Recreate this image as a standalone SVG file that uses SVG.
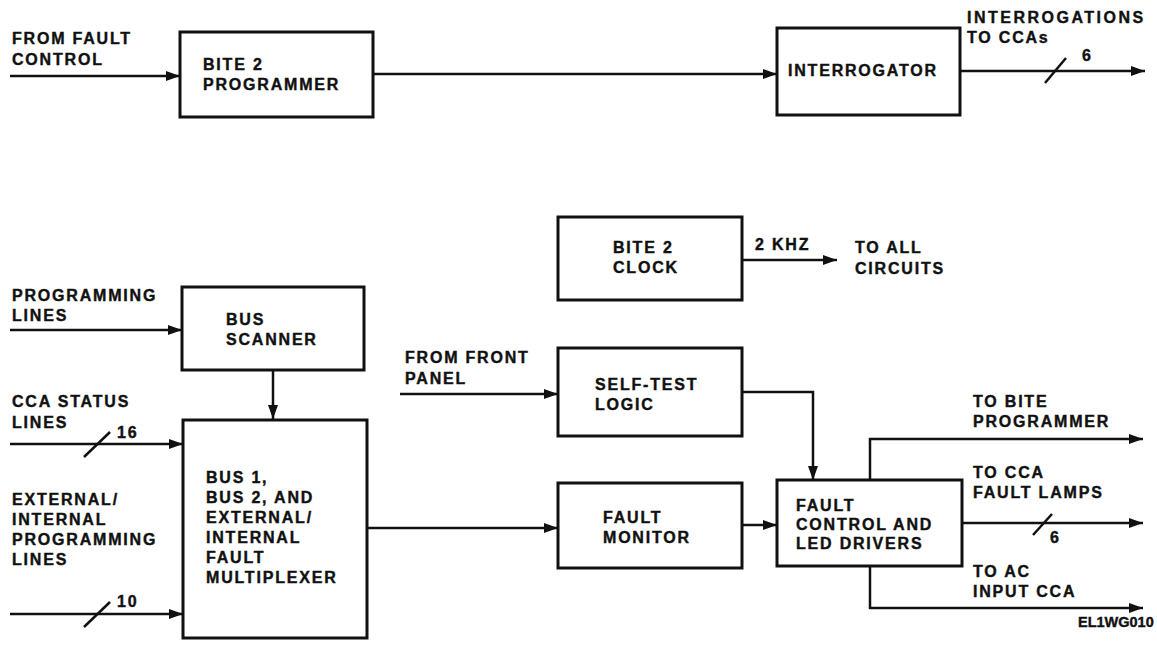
<svg xmlns="http://www.w3.org/2000/svg" width="1157" height="653" viewBox="0 0 1157 653">
<style>
text{font-family:"Liberation Sans",Arial,sans-serif;font-weight:bold;font-size:16px;letter-spacing:1.8px;fill:#111;stroke:#111;stroke-width:0.4}
.box{fill:#fff;stroke:#111;stroke-width:3}
.ln{fill:none;stroke:#111;stroke-width:2.5}
.arr{marker-end:url(#ah)}
</style>
<defs>
<marker id="ah" markerUnits="userSpaceOnUse" markerWidth="14" markerHeight="10" refX="14" refY="5" orient="auto">
<path d="M0,0 L14,5 L0,10 z" fill="#111"/>
</marker>
</defs>
<rect width="1157" height="653" fill="#fff"/>

<g id="connectors">
<path class="ln arr" d="M10,76 H180"/>
<path class="ln arr" d="M373,74 H777"/>
<path class="ln arr" d="M960,71 H1145"/>
<path class="ln" d="M1045,83 L1066,58"/>
<path class="ln arr" d="M742,260 H837"/>
<path class="ln arr" d="M10,330 H182"/>
<path class="ln arr" d="M273,370 V419"/>
<path class="ln arr" d="M10,444 H183"/>
<path class="ln" d="M84,457 L110,432"/>
<path class="ln arr" d="M10,614 H183"/>
<path class="ln" d="M84,627 L110,602"/>
<path class="ln arr" d="M400,394 H558"/>
<path class="ln arr" d="M742,392 H813 V480"/>
<path class="ln arr" d="M367,528 H558"/>
<path class="ln arr" d="M742,525 H777"/>
<path class="ln arr" d="M870,480 V439 H1143"/>
<path class="ln arr" d="M962,523 H1143"/>
<path class="ln" d="M1033,535 L1052,514"/>
<path class="ln arr" d="M870,566 V608 H1143"/>
</g>

<g id="labels">
<text x="12" y="44">FROM FAULT</text>
<text x="12" y="65">CONTROL</text>
<text x="967" y="23" textLength="178">INTERROGATIONS</text>
<text x="967" y="43">TO CCAs</text>
<text x="1082" y="61">6</text>
<text x="755" y="250">2 KHZ</text>
<text x="855" y="253">TO ALL</text>
<text x="855" y="274">CIRCUITS</text>
<text x="12" y="301">PROGRAMMING</text>
<text x="12" y="321">LINES</text>
<text x="12" y="407">CCA STATUS</text>
<text x="12" y="428">LINES</text>
<text x="117" y="438">16</text>
<text x="12" y="505">EXTERNAL/</text>
<text x="12" y="525">INTERNAL</text>
<text x="12" y="545">PROGRAMMING</text>
<text x="12" y="565">LINES</text>
<text x="117" y="607">10</text>
<text x="405" y="363">FROM FRONT</text>
<text x="405" y="384">PANEL</text>
<text x="973" y="407">TO BITE</text>
<text x="973" y="427">PROGRAMMER</text>
<text x="973" y="478">TO CCA</text>
<text x="973" y="498">FAULT LAMPS</text>
<text x="1050" y="543">6</text>
<text x="973" y="577">TO AC</text>
<text x="973" y="597">INPUT CCA</text>
<text x="1078" y="627" style="letter-spacing:0;font-size:14.5px">EL1WG010</text>
</g>

<g id="bite2-programmer">
<rect class="box" x="180" y="32" width="193" height="85"/>
<text x="203" y="70">BITE 2</text>
<text x="203" y="90">PROGRAMMER</text>
</g>
<g id="interrogator">
<rect class="box" x="777" y="28" width="183" height="87"/>
<text x="788" y="76">INTERROGATOR</text>
</g>
<g id="bite2-clock">
<rect class="box" x="558" y="217" width="184" height="83"/>
<text x="613" y="253">BITE 2</text>
<text x="613" y="273">CLOCK</text>
</g>
<g id="bus-scanner">
<rect class="box" x="182" y="287" width="182" height="83"/>
<text x="226" y="325">BUS</text>
<text x="226" y="345">SCANNER</text>
</g>
<g id="multiplexer">
<rect class="box" x="183" y="420" width="184" height="218"/>
<text x="206" y="483">BUS 1,</text>
<text x="206" y="503">BUS 2, AND</text>
<text x="206" y="523">EXTERNAL/</text>
<text x="206" y="543">INTERNAL</text>
<text x="206" y="563">FAULT</text>
<text x="206" y="583">MULTIPLEXER</text>
</g>
<g id="self-test-logic">
<rect class="box" x="558" y="348" width="184" height="88"/>
<text x="595" y="390">SELF-TEST</text>
<text x="595" y="410">LOGIC</text>
</g>
<g id="fault-monitor">
<rect class="box" x="558" y="483" width="184" height="85"/>
<text x="603" y="523">FAULT</text>
<text x="603" y="543">MONITOR</text>
</g>
<g id="fault-control">
<rect class="box" x="777" y="480" width="185" height="86"/>
<text x="796" y="511">FAULT</text>
<text x="796" y="530">CONTROL AND</text>
<text x="796" y="549">LED DRIVERS</text>
</g>
</svg>
